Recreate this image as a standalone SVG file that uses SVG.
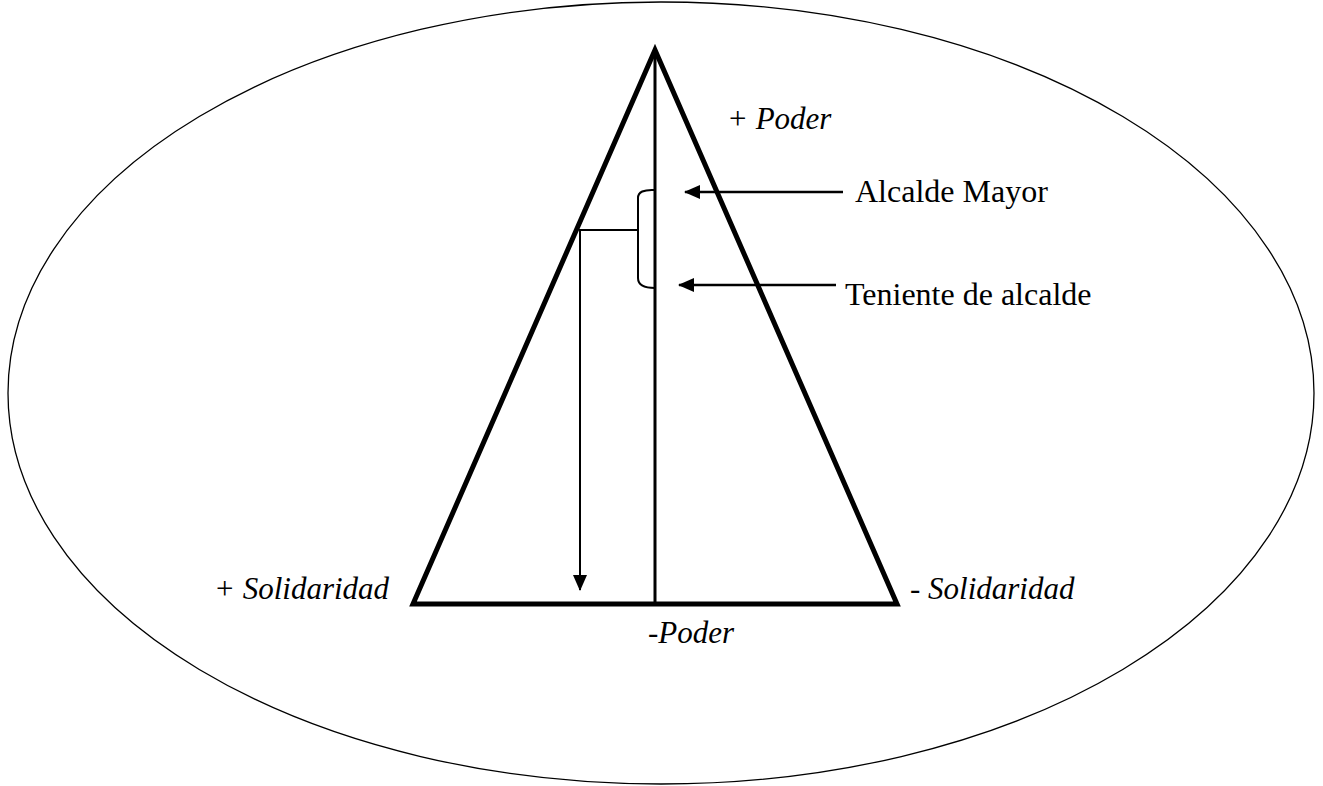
<svg xmlns="http://www.w3.org/2000/svg" width="1323" height="786" viewBox="0 0 1323 786">
<style>
.t{font-family:"Liberation Serif","Times New Roman",serif;font-size:32px;fill:#000}
.i{font-style:italic;font-size:31px}
.thin{fill:none;stroke:#000;stroke-width:2}
</style>
<defs>
<marker id="ah2" markerWidth="16" markerHeight="14" refX="15" refY="7" orient="auto" markerUnits="userSpaceOnUse" viewBox="0 0 16 14">
<path d="M0,0 L16,7 L0,14 Z" fill="#000"/>
</marker>
</defs>
<rect width="1323" height="786" fill="#fff"/>
<g id="ellipse"><ellipse cx="661" cy="393" rx="653" ry="391" fill="none" stroke="#000" stroke-width="1.3"/></g>
<g id="triangle">
<polygon points="655,50 413,604 897,604" fill="none" stroke="#000" stroke-width="5" stroke-linejoin="miter"/>
<line x1="655" y1="55" x2="655" y2="604" stroke="#000" stroke-width="3"/>
</g>
<g id="bracket"><path class="thin" d="M655,190 Q638,189 638,198 L638,278 Q638,288 655,288"/></g>
<g id="connectors">
<path class="thin" d="M637,230 L580,230 L580,590" marker-end="url(#ah2)"/>
<line x1="843" y1="192" x2="685" y2="192" stroke="#000" stroke-width="2.5" marker-end="url(#ah2)"/>
<line x1="836" y1="285" x2="679" y2="285" stroke="#000" stroke-width="2.5" marker-end="url(#ah2)"/>
</g>
<g id="labels">
<text class="t i" x="727" y="129">+ Poder</text>
<text class="t" x="855" y="202">Alcalde Mayor</text>
<text class="t" x="845" y="305">Teniente de alcalde</text>
<text class="t i" x="214" y="599">+ Solidaridad</text>
<text class="t i" x="910" y="599">- Solidaridad</text>
<text class="t i" x="648" y="643">-Poder</text>
</g>
</svg>
